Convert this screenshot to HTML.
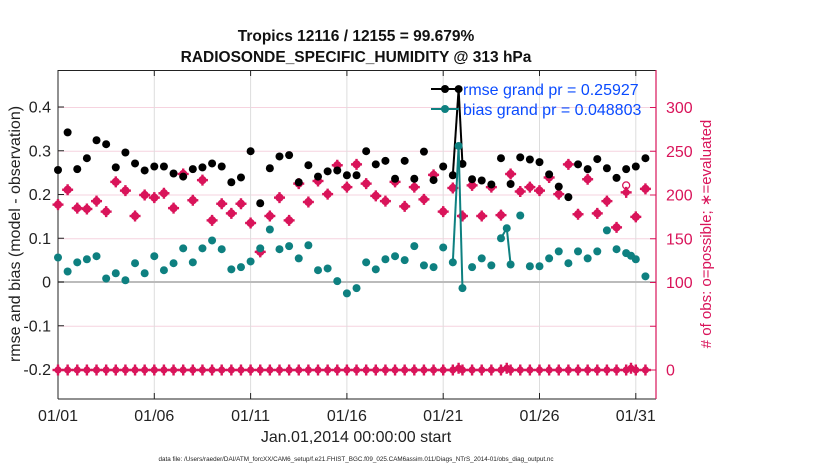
<!DOCTYPE html>
<html><head><meta charset="utf-8"><style>
body{margin:0;background:#fff;}
svg{display:block;font-family:"Liberation Sans",Arial,sans-serif;}
</style></head><body>
<svg id="chart" width="830" height="470" viewBox="0 0 830 470"></svg>
<script>
const halfDays = [0,1,2,3,4,5,6,7,8,9,10,11,12,13,14,15,16,17,18,19,20,21,22,23,24,25,26,27,28,29,30,31,32,33,34,35,36,37,38,39,40,41,41.6,42,43,44,45,46,46.6,47,48,49,50,51,52,53,54,55,56,57,58,59,59.5,60,61];
const rmse = [.256,.342,.258,.283,.324,.315,.262,.296,.271,.255,.264,.264,.248,.241,.258,.262,.271,.264,.228,.239,.299,.180,.260,.287,.290,.228,.267,.241,.253,.255,.244,.244,.299,.269,.277,.236,.277,.236,.298,.233,.264,.244,.441,.270,.235,.232,.223,.283,null,.224,.285,.280,.274,.246,.218,.194,.269,.258,.281,.260,.238,.258,null,.264,.283];
const bias = [.056,.024,.045,.052,.059,.008,.020,.004,.043,.020,.059,.027,.043,.077,.045,.077,.095,.075,.029,.034,.047,.077,.120,.075,.082,.054,.084,.027,.031,.002,-.026,-.014,.045,.029,.052,.059,.050,.082,.038,.034,.079,.045,.311,-.014,.034,.054,.038,.100,.123,.040,.152,.036,.036,.054,.070,.043,.070,.054,.070,.118,.075,.066,.060,.052,.013];
const nEval = [189,206,185,184,193,181,215,205,176,200,197,202,185,224,194,217,171,190,179,190,168,135,176,197,171,213,192,216,201,234,209,235,213,199,193,215,187,209,195,223,181,208,null,176,211,176,209,177,null,224,204,209,205,220,201,235,178,218,179,193,163,203,null,175,207];
const nPoss = [189,206,185,184,193,181,215,205,176,200,197,202,185,224,194,217,171,190,179,190,168,135,176,197,171,213,192,216,201,234,209,235,213,199,193,215,187,209,195,223,181,208,null,176,211,176,209,177,null,224,204,209,205,220,201,235,178,218,179,193,163,211,null,175,207];
const nOther = [0,0,0,0,0,0,0,0,0,0,0,0,0,0,0,0,0,0,0,0,0,0,0,0,0,0,0,0,0,0,0,0,0,0,0,0,0,0,0,0,0,0,2,0,0,0,0,0,2,0,0,0,0,0,0,0,0,0,0,0,0,0,2,0,0];
const xTickDays = [0,5,10,15,20,25,30];
const xTickLabels = ["01/01","01/06","01/11","01/16","01/21","01/26","01/31"];
const yTicks = [0.4,0.3,0.2,0.1,0,-0.1,-0.2];
const yTickLabels = ["0.4","0.3","0.2","0.1","0","-0.1","-0.2"];
const rTicks = [0,50,100,150,200,250,300];
const rTickLabels = ["0","","100","150","200","250","300"];

const L=58,R=656,T=70,B=399;
const x = d => L + d*19.26;
const y = v => 282 - v*437.5;
const yr = n => 370 - n*0.875;
const svg=document.getElementById('chart');
const NS='http://www.w3.org/2000/svg';
function mk(tag,attrs,parent){const e=document.createElementNS(NS,tag);for(const k in attrs)e.setAttribute(k,attrs[k]);(parent||svg).appendChild(e);return e;}
const MAG='#d9145a',TEAL='#0e8080',BLUE='#0a4bff';

const grid=mk('g',{});


rTicks.forEach(n=>{mk('line',{x1:L,x2:R,y1:yr(n),y2:yr(n),stroke:'#f6d3df','stroke-width':1},grid);});
xTickDays.forEach(d=>{mk('line',{x1:x(d),x2:x(d),y1:T,y2:B,stroke:'#dddddd','stroke-width':1},grid);});
const zl=mk('line',{x1:L,x2:R,y1:y(0),y2:y(0),stroke:'#bbbbbb','stroke-width':2});



const ax=mk('g',{});


mk('line',{x1:L,x2:R,y1:T+0.5,y2:T+0.5,stroke:'#222','stroke-width':1},ax);
mk('line',{x1:L,x2:R,y1:B,y2:B,stroke:'#222','stroke-width':1},ax);
mk('line',{x1:L,x2:L,y1:T,y2:B,stroke:'#222','stroke-width':1},ax);
mk('line',{x1:R,x2:R,y1:T,y2:B,stroke:MAG,'stroke-width':1.2},ax);
xTickDays.forEach((d,i)=>{
  mk('line',{x1:x(d),x2:x(d),y1:B,y2:B-6,stroke:'#222'},ax);
  mk('line',{x1:x(d),x2:x(d),y1:T,y2:T+6,stroke:'#222'},ax);
  const t=mk('text',{x:x(d),y:421,'text-anchor':'middle','font-size':16,fill:'#222'},ax);
  t.textContent=xTickLabels[i];
  
  
});
yTicks.forEach((v,i)=>{
  mk('line',{x1:L,x2:L+6,y1:y(v),y2:y(v),stroke:'#222'},ax);
  const t=mk('text',{x:51,y:y(v)+5.5,'text-anchor':'end','font-size':16,fill:'#222'},ax);
  t.textContent=yTickLabels[i];
  
  
});
rTicks.forEach((n,i)=>{
  mk('line',{x1:R,x2:R-6,y1:yr(n),y2:yr(n),stroke:MAG},ax);
  if(rTickLabels[i]){const t=mk('text',{x:666,y:yr(n)+5.5,'font-size':16,fill:MAG},ax);
  t.textContent=rTickLabels[i];
  
  }
});

function star(cx,cy,g){
  mk('circle',{cx,cy,r:3.6,fill:MAG},g);
  mk('line',{x1:cx-5.5,x2:cx+5.5,y1:cy,y2:cy,stroke:MAG,'stroke-width':2.4},g);
  mk('line',{x1:cx,x2:cx,y1:cy-5.5,y2:cy+5.5,stroke:MAG,'stroke-width':2.4},g);
}
function connectedLines(vals,fy,color,g,all){
  for(let i=1;i<halfDays.length;i++){
    if(vals[i]==null||vals[i-1]==null)continue;
    if(!all && halfDays[i]-halfDays[i-1]>=0.95)continue;
    mk('line',{x1:x(halfDays[i-1]/2),y1:fy(vals[i-1]),x2:x(halfDays[i]/2),y2:fy(vals[i]),stroke:color,'stroke-width':2},g);
  }
}
const gO=mk('g',{});


connectedLines(nOther,yr,MAG,gO,true);
nOther.forEach((n,i)=>star(x(halfDays[i]/2),yr(n),gO));
const gP=mk('g',{});


nPoss.forEach((n,i)=>{if(n!=null)mk('circle',{cx:x(halfDays[i]/2),cy:yr(n),r:3.5,fill:'none',stroke:MAG,'stroke-width':1.3},gP);});
const gE=mk('g',{});


nEval.forEach((n,i)=>{if(n!=null)star(x(halfDays[i]/2),yr(n),gE);});
const gR=mk('g',{});


connectedLines(rmse,y,'#000',gR,false);
rmse.forEach((v,i)=>{if(v!=null)mk('circle',{cx:x(halfDays[i]/2),cy:y(v),r:4,fill:'#000'},gR);});
const gB=mk('g',{});


connectedLines(bias,y,TEAL,gB,false);
bias.forEach((v,i)=>{if(v!=null)mk('circle',{cx:x(halfDays[i]/2),cy:y(v),r:4,fill:TEAL},gB);});

const lg=mk('g',{});


mk('line',{x1:431,x2:459,y1:89,y2:89,stroke:'#000','stroke-width':2},lg);
mk('circle',{cx:445,cy:89,r:4,fill:'#000'},lg);
mk('line',{x1:431,x2:459,y1:109,y2:109,stroke:TEAL,'stroke-width':2},lg);
mk('circle',{cx:445,cy:109,r:4,fill:TEAL},lg);
const l1=mk('text',{x:463,y:95,'font-size':16,fill:BLUE},lg);l1.textContent='rmse grand pr = 0.25927';


const l2=mk('text',{x:463,y:115,'font-size':16,fill:BLUE},lg);l2.textContent='bias grand pr = 0.048803';


</script>
<script>
(function(){
const svg=document.getElementById('chart');const NS='http://www.w3.org/2000/svg';
function txt(s,attrs,name){const e=document.createElementNS(NS,'text');for(const k in attrs)e.setAttribute(k,attrs[k]);e.textContent=s;


svg.appendChild(e);}
txt('Tropics 12116 / 12155 = 99.679%',{x:356,y:41,'text-anchor':'middle','font-size':15.5,'font-weight':'bold',fill:'#111'},'title-line-1');
txt('RADIOSONDE_SPECIFIC_HUMIDITY @ 313 hPa',{x:356,y:62,'text-anchor':'middle','font-size':15.5,'font-weight':'bold',fill:'#111'},'title-line-2');
txt('rmse and bias (model - observation)',{x:0,y:0,transform:'translate(20,234) rotate(-90)','text-anchor':'middle','font-size':16,fill:'#222'},'y-axis-title');
txt('# of obs: o=possible; \u2217=evaluated',{x:0,y:0,transform:'translate(711,234) rotate(-90)','text-anchor':'middle','font-size':15,fill:'#d9145a'},'right-axis-title');
txt('Jan.01,2014 00:00:00 start',{x:356,y:442,'text-anchor':'middle','font-size':16,fill:'#222'},'x-axis-title');
txt('data file: /Users/raeder/DAI/ATM_forcXX/CAM6_setup/f.e21.FHIST_BGC.f09_025.CAM6assim.011/Diags_NTrS_2014-01/obs_diag_output.nc',{x:356,y:461,'text-anchor':'middle','font-size':6.3,fill:'#222'},'data-file-note');
})();
</script>
</body></html>
